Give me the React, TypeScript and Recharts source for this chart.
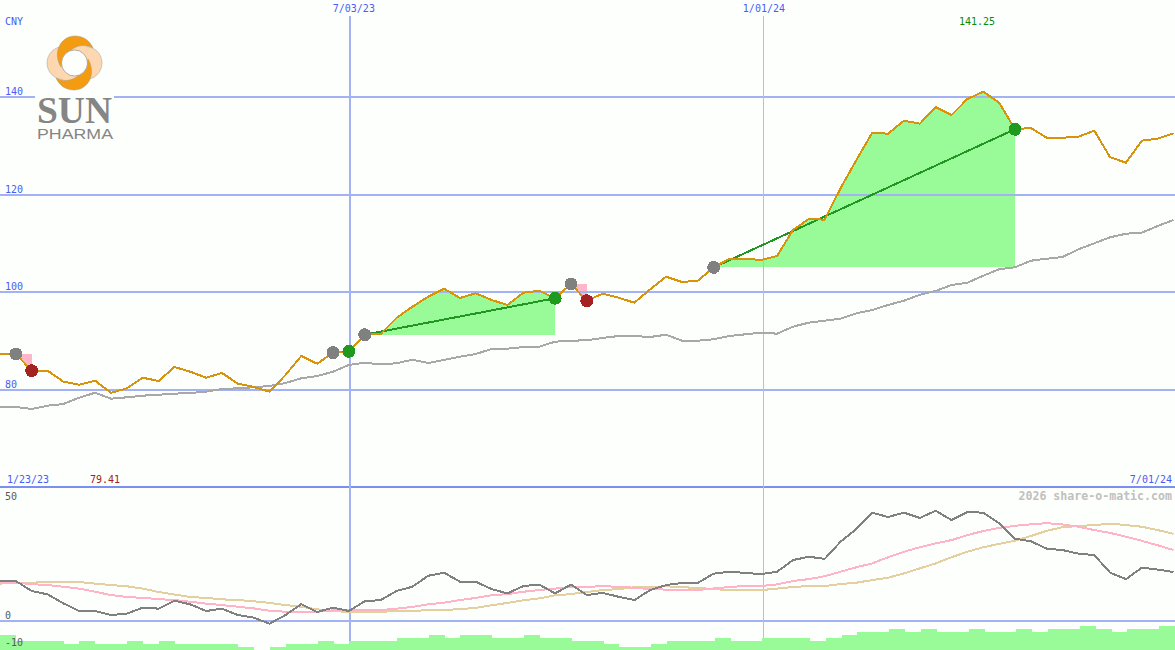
import React from "react";
import {
  ComposedChart,
  XAxis,
  YAxis,
  Line,
  Area,
  Bar,
  ReferenceLine,
} from "recharts";

const PRICE = [
  87.37, 87.37, 83.95, 83.95, 81.7, 81.08, 81.9, 79.41, 80.34, 82.51,
  81.84, 84.71, 83.74, 82.51, 83.48, 81.29, 80.61, 79.65, 83.07, 86.96,
  85.38, 87.63, 87.92, 91.32, 91.46, 94.74, 97.05, 99.1, 100.74, 98.84,
  99.8, 98.43, 97.4, 99.92, 100.33, 98.78, 101.7, 98.28, 99.72, 98.9,
  97.87, 100.62, 103.2, 102.11, 102.38, 105.1, 106.9, 106.88, 106.62, 107.44,
  112.76, 115.02, 114.87, 121.3, 127.1, 132.69, 132.48, 135.15, 134.53, 137.95,
  136.31, 139.59, 141.09, 138.83, 133.39, 133.65, 131.66, 131.66, 131.87, 133.1,
  127.65, 126.55, 131.05, 131.46, 132.57,
];
const AVERAGE = [
  76.58, 76.52, 76.11, 76.78, 77.13, 78.42, 79.44, 78.21, 78.5, 78.83,
  79.03, 79.24, 79.38, 79.65, 80.2, 80.34, 80.55, 80.82, 81.43, 82.39,
  82.86, 83.74, 85.12, 85.59, 85.22, 85.47, 86.2, 85.53, 86.14, 86.82,
  87.37, 88.39, 88.45, 88.8, 88.86, 89.89, 90.09, 90.17, 90.65, 91.05,
  91.05, 90.85, 91.32, 90.09, 90.09, 90.38, 91.05, 91.4, 91.73, 91.53,
  92.96, 93.78, 94.19, 94.6, 95.7, 96.38, 97.4, 98.28, 99.51, 100.27,
  101.5, 101.97, 103.4, 104.71, 105.12, 106.47, 106.88, 107.23, 108.81, 110.04,
  111.27, 112.0, 112.21, 113.58, 114.81,
];
const OSC_FAST = [
  16.8, 16.8, 12.6, 11.2, 7.4, 4.2, 4.2, 2.5, 3.1, 5.6,
  5.2, 8.5, 7.0, 4.2, 5.2, 2.5, 1.4, -1.1, 2.5, 7.1,
  3.8, 5.6, 4.2, 8.3, 8.8, 12.6, 14.4, 19.0, 20.3, 16.5,
  16.5, 13.4, 11.6, 14.7, 15.3, 11.6, 15.3, 10.9, 11.8, 10.2,
  8.8, 13.0, 15.1, 16.0, 16.0, 19.9, 20.7, 20.2, 19.7, 20.7,
  25.6, 27.0, 26.1, 33.3, 38.7, 45.5, 43.7, 45.5, 43.3, 46.3,
  42.4, 45.8, 45.5, 41.1, 34.6, 33.5, 30.4, 29.8, 28.3, 27.7,
  20.3, 17.6, 22.4, 21.6, 20.6,
];
const OSC_MID = [
  16.1, 16.1, 15.5, 15.1, 14.4, 13.6, 12.3, 10.9, 10.1, 9.7,
  9.2, 8.8, 8.1, 7.3, 6.7, 6.0, 5.3, 4.3, 3.9, 3.9,
  3.9, 4.5, 4.6, 4.6, 4.6, 5.2, 5.9, 7.0, 7.7, 8.8,
  9.7, 10.8, 11.3, 12.3, 13.0, 13.6, 14.3, 14.3, 14.7, 14.3,
  14.0, 13.4, 13.2, 13.2, 13.0, 13.7, 14.3, 14.7, 14.7, 15.4,
  16.8, 17.6, 18.8, 20.7, 22.6, 24.2, 26.8, 29.1, 31.0, 32.6,
  34.0, 36.1, 37.8, 39.1, 40.0, 40.6, 41.1, 40.6, 39.6, 38.2,
  37.0, 35.4, 33.7, 31.8, 29.8,
];
const OSC_SLOW = [
  15.7, 16.1, 16.1, 16.4, 16.4, 16.4, 15.7, 15.1, 14.6, 13.6,
  12.2, 11.1, 10.1, 9.7, 9.1, 8.8, 8.3, 7.6, 6.7, 6.0,
  4.9, 4.2, 3.8, 3.8, 3.8, 4.3, 4.2, 4.6, 4.6, 5.0,
  5.5, 6.6, 7.6, 8.7, 9.5, 10.8, 11.3, 12.2, 13.0, 13.4,
  14.2, 14.3, 14.6, 14.2, 13.9, 13.4, 13.0, 13.0, 13.0, 13.6,
  14.3, 14.7, 14.7, 15.5, 16.1, 17.2, 18.2, 20.0, 22.1, 24.2,
  26.8, 29.1, 31.0, 32.4, 33.7, 35.7, 37.9, 39.4, 39.9, 40.3,
  40.9, 40.3, 39.6, 38.2, 36.6,
];
const HISTOGRAM = [
  5, 3, 3, 3, 2, 3, 2, 2, 3, 2,
  3, 2, 2, 2, 2, 1, 0, 1, 2, 2,
  3, 2, 3, 3, 3, 4, 4, 5, 4, 5,
  5, 4, 4, 5, 4, 4, 3, 3, 2, 1,
  1, 2, 3, 3, 3, 4, 3, 3, 4, 4,
  4, 3, 4, 5, 6, 6, 7, 6, 7, 6,
  6, 7, 6, 6, 7, 6, 7, 7, 8, 7,
  6, 7, 7, 8,
];

// week index of entry and exit for each trade
const WINS = [
  { start: 23, end: 35 },
  { start: 45, end: 64 },
];
const LOSSES = [
  { start: 1, end: 2 },
  { start: 36, end: 37 },
];
const ENTRY_WEEKS = [1, 21, 23, 36, 45];
const WIN_WEEKS = [22, 35, 64];
const LOSS_WEEKS = [2, 37];

const PRICE_TICKS = [80, 100, 120, 140];
const OSC_TICKS = [-10, 0, 50];
const DATE_WEEKS = [22.06, 48.17];
const DATE_LABELS = ["7/03/23", "1/01/24"];

const MONO = "'DejaVu Sans Mono', monospace";
const BLUE_TEXT = "#4a5cf5";
const GRID = "#a3b1f5";
const X_DOMAIN: [number, number] = [0, 74.09];

const rows = PRICE.map((price, i) => {
  const row: any = {
    week: i,
    price,
    average: AVERAGE[i],
    fast: OSC_FAST[i],
    mid: OSC_MID[i],
    slow: OSC_SLOW[i],
    entry: ENTRY_WEEKS.includes(i) ? price : null,
    win: WIN_WEEKS.includes(i) ? price : null,
    loss: LOSS_WEEKS.includes(i) ? price : null,
    gain: null,
    drop: null,
  };
  WINS.forEach((t, n) => {
    if (i >= t.start && i <= t.end) row.gain = [PRICE[t.start], price];
    row["trend" + n] = i === t.start || i === t.end ? price : null;
  });
  LOSSES.forEach((t) => {
    if (i >= t.start && i <= t.end) row.drop = [price, PRICE[t.start]];
  });
  return row;
});

const histRows = HISTOGRAM.map((value, i) => ({ week: i, value }));

function PriceTick({ y, payload }: any) {
  return (
    <text x={5} y={y - 2} fontFamily={MONO} fontSize={10} fill={BLUE_TEXT}>
      {payload.value}
    </text>
  );
}

function OscTick({ y, payload }: any) {
  // the -10 label sits a little lower than its scale position
  const shift = payload.value < 0 ? 1 : -2;
  return (
    <text x={5} y={y + shift} fontFamily={MONO} fontSize={10} fill="#5a5a5a">
      {payload.value}
    </text>
  );
}

function DateTick({ x, index }: any) {
  // the first label sits slightly right of its line in the original
  const nudge = index === 0 ? 4 : 0;
  return (
    <text x={x + nudge} y={12} textAnchor="middle" fontFamily={MONO} fontSize={10} fill={BLUE_TEXT}>
      {DATE_LABELS[index]}
    </text>
  );
}

function Logo() {
  const orange = "#f39c12";
  const peach = "#fdd7b0";
  const edge = "#a09a90";
  const band = "M61 67 C52 52, 61 36, 75 36 C84 36, 90 41, 93 48 C84 43, 68 44, 61 67 Z";
  return (
    <g style={{ shapeRendering: "geometricPrecision" }}>
      <rect x={35} y={92} width={79} height={48} fill="#fdfffd" />
      <circle cx={63.5} cy={63} r={16.5} fill={peach} stroke={edge} strokeWidth={0.5} />
      <circle cx={85.5} cy={63} r={16.5} fill={peach} stroke={edge} strokeWidth={0.5} />
      <circle cx={74.5} cy={63} r={20} fill={peach} />
      <path d={band} fill={orange} stroke={edge} strokeWidth={0.5} />
      <path d={band} fill={orange} stroke={edge} strokeWidth={0.5} transform="rotate(180 74.5 63)" />
      <circle cx={74.5} cy={63} r={13} fill="#fdfffd" stroke={edge} strokeWidth={0.8} />
      <text x={37} y={123} fontFamily="'Liberation Serif', serif" fontSize={37} fontWeight="bold" fill="#858585" textLength={75} lengthAdjust="spacingAndGlyphs">
        SUN
      </text>
      <text x={37} y={139} fontFamily="'Liberation Sans', sans-serif" fontSize={15.5} fill="#858585" textLength={76} lengthAdjust="spacingAndGlyphs">
        PHARMA
      </text>
    </g>
  );
}

export default function App() {
  const layer = (top: number): React.CSSProperties => ({ position: "absolute", left: 0, top });

  return (
    <div
      style={{
        position: "absolute",
        left: 0,
        top: 0,
        width: 1175,
        height: 650,
        overflow: "hidden",
        background: "#fdfffd",
        shapeRendering: "crispEdges",
      }}
    >
      {/* price panel */}
      <div style={layer(0)}>
        <ComposedChart width={1175} height={487} data={rows} margin={{ top: 0, right: 0, bottom: 0, left: 0 }}>
          <XAxis
            dataKey="week"
            type="number"
            domain={X_DOMAIN}
            allowDataOverflow
            orientation="top"
            height={1}
            mirror
            axisLine={false}
            tickLine={false}
            ticks={DATE_WEEKS}
            interval={0}
            tick={DateTick}
          />
          <YAxis
            type="number"
            domain={[60.13, 159.86]}
            allowDataOverflow
            width={1}
            mirror
            axisLine={false}
            tickLine={false}
            ticks={PRICE_TICKS}
            interval={0}
            tick={PriceTick}
          />
          {PRICE_TICKS.map((v) => (
            <ReferenceLine key={v} y={v} stroke={GRID} strokeWidth={2} />
          ))}
          <ReferenceLine segment={[{ x: DATE_WEEKS[0], y: 156.6 }, { x: DATE_WEEKS[0], y: 60.13 }]} stroke={GRID} strokeWidth={2} />
          <ReferenceLine segment={[{ x: DATE_WEEKS[1], y: 156.6 }, { x: DATE_WEEKS[1], y: 60.13 }]} stroke="#b4bde6" strokeWidth={1} />
          <Area dataKey="gain" stroke="none" fill="#98fb98" fillOpacity={1} dot={false} activeDot={false} isAnimationActive={false} />
          <Line dataKey="average" stroke="#a8a8a8" strokeWidth={2} dot={false} isAnimationActive={false} />
          <Line dataKey="entry" stroke="none" dot={{ r: 6.5, fill: "#808080", stroke: "none" }} activeDot={false} isAnimationActive={false} />
          <Area dataKey="drop" stroke="none" fill="#ffb6c8" fillOpacity={1} dot={false} activeDot={false} isAnimationActive={false} />
          <Line dataKey="win" stroke="none" dot={{ r: 6.5, fill: "#1f9a1f", stroke: "none" }} activeDot={false} isAnimationActive={false} />
          <Line dataKey="loss" stroke="none" dot={{ r: 6.5, fill: "#a52222", stroke: "none" }} activeDot={false} isAnimationActive={false} />
          <Line dataKey="trend0" connectNulls stroke="#229622" strokeWidth={2} dot={false} isAnimationActive={false} />
          <Line dataKey="trend1" connectNulls stroke="#229622" strokeWidth={2} dot={false} isAnimationActive={false} />
          <Line dataKey="price" stroke="#d8930c" strokeWidth={2} dot={false} isAnimationActive={false} />
        </ComposedChart>
      </div>

      {/* oscillator panel */}
      <div style={layer(486)}>
        <ComposedChart width={1175} height={164} data={rows} margin={{ top: 0, right: 0, bottom: 0, left: 0 }}>
          <XAxis dataKey="week" type="number" domain={X_DOMAIN} allowDataOverflow hide />
          <YAxis type="number" domain={[-12.18, 56.72]} allowDataOverflow hide />
          <ReferenceLine y={56.2} stroke="#7b8ff0" strokeWidth={2} />
          <ReferenceLine y={0} stroke={GRID} strokeWidth={2} />
          <ReferenceLine x={DATE_WEEKS[0]} stroke={GRID} strokeWidth={2} />
          <ReferenceLine x={DATE_WEEKS[1]} stroke="#b4bde6" strokeWidth={1} />
          <Line dataKey="slow" stroke="#e3cfa0" strokeWidth={2} dot={false} isAnimationActive={false} />
          <Line dataKey="mid" stroke="#ffb3c6" strokeWidth={2} dot={false} isAnimationActive={false} />
          <Line dataKey="fast" stroke="#808080" strokeWidth={2} dot={false} isAnimationActive={false} />
        </ComposedChart>
      </div>

      {/* histogram strip sits over the grid lines, the oscillator labels over it */}
      <div style={layer(486)}>
        <ComposedChart
          width={1175}
          height={164}
          data={histRows}
          margin={{ top: 0, right: 0, bottom: 0, left: 0 }}
          barCategoryGap={0}
          barGap={0}
        >
          <XAxis dataKey="week" type="category" hide />
          <YAxis yAxisId="hist" type="number" domain={[0, 54.67]} allowDataOverflow hide />
          <Bar yAxisId="hist" dataKey="value" fill="#98fb98" isAnimationActive={false} />
          <YAxis
            yAxisId="osc"
            type="number"
            domain={[-12.18, 56.72]}
            allowDataOverflow
            width={1}
            mirror
            axisLine={false}
            tickLine={false}
            ticks={OSC_TICKS}
            interval={0}
            tick={OscTick}
          />
        </ComposedChart>
      </div>

      <svg width={1175} height={650} style={{ position: "absolute", left: 0, top: 0 }}>
        <Logo />
        <text x={5} y={25} fontFamily={MONO} fontSize={10} fill={BLUE_TEXT}>CNY</text>
        <text x={959} y={25} fontFamily={MONO} fontSize={10} fill="#0a8a0a">141.25</text>
        <text x={7} y={483} fontFamily={MONO} fontSize={10} fill={BLUE_TEXT}>1/23/23</text>
        <text x={90} y={483} fontFamily={MONO} fontSize={10} fill="#a02020">79.41</text>
        <text x={1172} y={483} textAnchor="end" fontFamily={MONO} fontSize={10} fill={BLUE_TEXT}>7/01/24</text>
        <text x={1172} y={500} textAnchor="end" fontFamily={MONO} fontSize={11.6} fontWeight="bold" fill="#c0c0c0">
          2026 share-o-matic.com
        </text>
      </svg>
    </div>
  );
}
